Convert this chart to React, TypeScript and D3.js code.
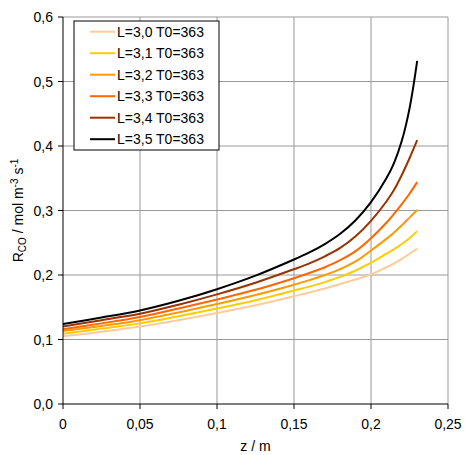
import React from "react";
import * as d3 from "d3";

const zValues = [0, 0.025, 0.05, 0.075, 0.1, 0.125, 0.15, 0.16, 0.17, 0.18, 0.19, 0.2, 0.21, 0.215, 0.22, 0.225, 0.23];

const seriesNames = ["L=3,0 T0=363", "L=3,1 T0=363", "L=3,2 T0=363", "L=3,3 T0=363", "L=3,4 T0=363", "L=3,5 T0=363"];
const seriesColors = ["#FFCC99", "#FFCC00", "#FF9900", "#FF6600", "#993300", "#000000"];

const rL30 = [0.105, 0.112, 0.120, 0.130, 0.141, 0.153, 0.167, 0.173, 0.179, 0.186, 0.193, 0.201, 0.212, 0.218, 0.225, 0.233, 0.241];
const rL31 = [0.109, 0.117, 0.125, 0.136, 0.148, 0.161, 0.176, 0.182, 0.189, 0.197, 0.207, 0.219, 0.233, 0.240, 0.248, 0.257, 0.268];
const rL32 = [0.113, 0.121, 0.130, 0.142, 0.155, 0.169, 0.185, 0.192, 0.200, 0.209, 0.221, 0.238, 0.256, 0.266, 0.277, 0.289, 0.301];
const rL33 = [0.116, 0.125, 0.135, 0.148, 0.162, 0.177, 0.195, 0.203, 0.212, 0.223, 0.237, 0.257, 0.281, 0.295, 0.310, 0.326, 0.344];
const rL34 = [0.120, 0.130, 0.140, 0.154, 0.170, 0.188, 0.209, 0.218, 0.229, 0.242, 0.260, 0.284, 0.314, 0.332, 0.355, 0.381, 0.409];
const rL35 = [0.124, 0.134, 0.145, 0.160, 0.178, 0.199, 0.224, 0.235, 0.248, 0.264, 0.285, 0.313, 0.350, 0.374, 0.408, 0.458, 0.532];

const seriesValues = [rL30, rL31, rL32, rL33, rL34, rL35];

const xTicks = [0, 0.05, 0.1, 0.15, 0.2, 0.25];
const xTickLabels = ["0", "0,05", "0,1", "0,15", "0,2", "0,25"];
const yTicks = [0, 0.1, 0.2, 0.3, 0.4, 0.5, 0.6];
const yTickLabels = ["0,0", "0,1", "0,2", "0,3", "0,4", "0,5", "0,6"];

export default function App() {
  const W = 465, H = 455;
  const left = 63, right = 448, top = 17, bottom = 404;
  const x = d3.scaleLinear().domain([0, 0.25]).range([left, right]);
  const y = d3.scaleLinear().domain([0, 0.6]).range([bottom, top]);
  const line = d3
    .line<number>()
    .x((_, i) => x(zValues[i]))
    .y((d) => y(d))
    .curve(d3.curveCatmullRom.alpha(0.5));
  const font = "'Liberation Sans', Arial, sans-serif";
  const legX = 74, legY = 21, legW = 145, legH = 129;
  const legStep = 21.5;
  const fs = 14;

  return (
    <svg width={W} height={H} style={{ position: "absolute", left: 0, top: 0, background: "#fff" }} fontFamily={font}>
      <rect x={0} y={0} width={W} height={H} fill="#fff" />
      {xTicks.slice(1).map((t) => (
        <line key={"gx" + t} x1={x(t)} x2={x(t)} y1={bottom} y2={top} stroke="#999" strokeWidth={1} />
      ))}
      {yTicks.slice(1).map((t) => (
        <line key={"gy" + t} x1={left} x2={right} y1={y(t)} y2={y(t)} stroke="#999" strokeWidth={1} />
      ))}
      {seriesValues.map((vals, i) => (
        <path key={"s" + i} d={line(vals) || ""} fill="none" stroke={seriesColors[i]} strokeWidth={2} />
      ))}
      <line x1={left} x2={left} y1={top} y2={bottom} stroke="#000" strokeWidth={1} />
      <line x1={left} x2={right} y1={bottom} y2={bottom} stroke="#000" strokeWidth={1} />
      {yTicks.map((t, i) => (
        <g key={"yt" + t}>
          <line x1={left - 5} x2={left} y1={y(t)} y2={y(t)} stroke="#000" />
          <text x={53} y={y(t) + 5} textAnchor="end" fontSize={fs} fill="#000">
            {yTickLabels[i]}
          </text>
        </g>
      ))}
      {xTicks.map((t, i) => (
        <g key={"xt" + t}>
          <line x1={x(t)} x2={x(t)} y1={bottom} y2={bottom + 5} stroke="#000" />
          <text x={x(t)} y={429} textAnchor="middle" fontSize={fs} fill="#000">
            {xTickLabels[i]}
          </text>
        </g>
      ))}
      <text x={(left + right) / 2} y={451} textAnchor="middle" fontSize={fs} fill="#000">
        z / m
      </text>
      <text transform={`translate(23, ${(top + bottom) / 2}) rotate(-90)`} textAnchor="middle" fontSize={fs} fill="#000">
        R<tspan fontSize={10} dy={3}>CO</tspan>
        <tspan dy={-3}> / mol m</tspan>
        <tspan fontSize={10} dy={-5}>-3</tspan>
        <tspan dy={5}> s</tspan>
        <tspan fontSize={10} dy={-5}>-1</tspan>
      </text>
      <rect x={legX} y={legY} width={legW} height={legH} fill="#fff" stroke="#000" strokeWidth={1} />
      {seriesNames.map((name, i) => {
        const cy = legY + 10.7 + i * legStep;
        return (
          <g key={"lg" + i}>
            <line x1={90} x2={115} y1={cy} y2={cy} stroke={seriesColors[i]} strokeWidth={2} />
            <text x={117} y={cy + 5} fontSize={fs} fill="#000">
              {name}
            </text>
          </g>
        );
      })}
    </svg>
  );
}
